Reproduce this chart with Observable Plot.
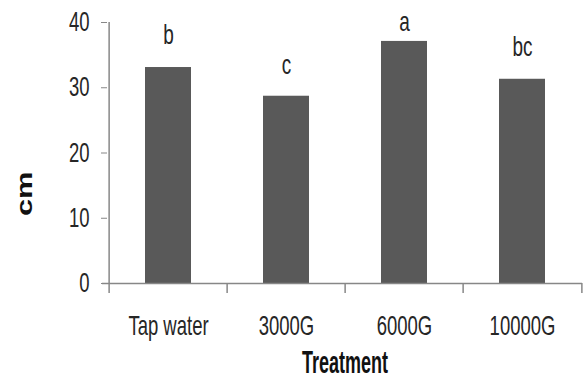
<!DOCTYPE html>
<html><head><meta charset="utf-8">
<script src="https://cdn.jsdelivr.net/npm/d3@7"></script>
<script src="https://cdn.jsdelivr.net/npm/@observablehq/plot@0.6"></script>
<style>html,body{margin:0;padding:0;background:#fff} #chart svg{display:block}</style>
</head><body><div id="chart"></div>
<script>
const treatments = ["Tap water", "3000G", "6000G", "10000G"];
const lengths = [33.1, 28.7, 37.1, 31.3];
const letters = ["b", "c", "a", "bc"];
const letterY = [36.7, 32.1, 38.7, 34.9];
const yTicks = [0, 10, 20, 30, 40];

const data = treatments.map((t, i) => ({treatment: t, cm: lengths[i], letter: letters[i], ly: letterY[i]}));
const W = 583, H = 379, ML = 107, MR = 1, MT = 22, MB = 96;
const step = (W - ML - MR) / treatments.length;
const axisColor = "#878787";
const textColor = "#262626";

const plot = Plot.plot({
  width: W, height: H,
  marginLeft: ML, marginRight: MR, marginTop: MT, marginBottom: MB,
  style: {fontFamily: "'Liberation Sans', Arial, sans-serif", color: textColor, background: "#fff", overflow: "visible"},
  x: {domain: treatments, padding: 0, label: null},
  y: {domain: [0, 40], label: null},
  marks: [
    Plot.barY(data, {x: "treatment", y: "cm", fill: "#595959", insetLeft: 36, insetRight: 36}),
    Plot.ruleX([treatments[0]], {x: d => d, dx: -step / 2, stroke: axisColor, strokeWidth: 1.5}),
    Plot.ruleY([0], {stroke: axisColor, strokeWidth: 1.5, insetLeft: -5}),
    Plot.ruleX(treatments, {x: d => d, dx: -step / 2, insetTop: H - MT - MB, insetBottom: -10, stroke: axisColor, strokeWidth: 1.5}),
    Plot.ruleX([treatments[treatments.length - 1]], {x: d => d, dx: step / 2, insetTop: H - MT - MB, insetBottom: -10, stroke: axisColor, strokeWidth: 1.5}),
    Plot.axisY({ticks: yTicks, tickSize: 6, tickPadding: 12, fontSize: 18.5, stroke: axisColor, fill: textColor, label: null}),
    Plot.axisX({tickSize: 0, tickPadding: 32, fontSize: 18.5, fill: textColor, label: null}),
    Plot.text(data, {x: "treatment", y: "ly", text: "letter", lineAnchor: "bottom", fontSize: 19, fill: textColor}),
    Plot.text(["Treatment"], {frameAnchor: "bottom", lineAnchor: "top", dy: 67, fontWeight: "bold", fontSize: 18, fill: "#111"}),
    Plot.text(["cm"], {frameAnchor: "left", rotate: -90, dx: -83, dy: 63, fontWeight: "bold", fontSize: 22, fill: "#111"})
  ]
});

function stretchEls(els, sx, sy) {
  els.forEach(t => {
    t.setAttribute("transform", (t.getAttribute("transform") || "") + ` scale(${sx},${sy})`);
  });
}
stretchEls(plot.querySelectorAll('g[aria-label="y-axis tick label"] text'), 1, 1.45);
stretchEls(plot.querySelectorAll('g[aria-label="x-axis tick label"] text'), 1, 1.45);
const textGroups = plot.querySelectorAll('g[aria-label="text"]');
if (textGroups.length >= 3) {
  stretchEls(textGroups[0].querySelectorAll("text"), 1, 1.45);
  stretchEls(textGroups[1].querySelectorAll("text"), 1, 1.75);
  stretchEls(textGroups[2].querySelectorAll("text"), 1.4, 1);
}

document.getElementById("chart").appendChild(plot);
</script>
</body></html>
